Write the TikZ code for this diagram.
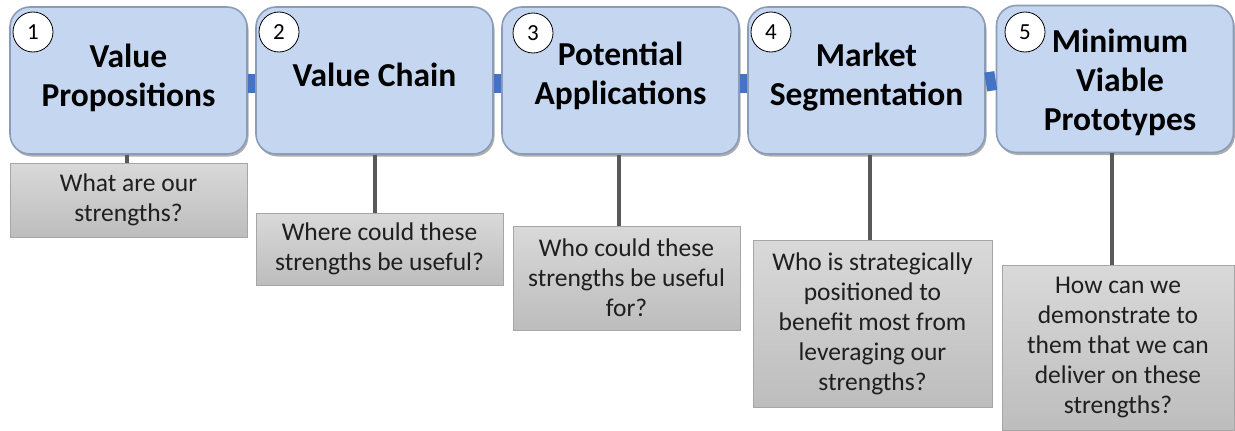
\documentclass[tikz,border=0pt]{standalone}
\usepackage{fontspec}
\setmainfont{Carlito}
\usetikzlibrary{shadows}
\definecolor{boxfill}{HTML}{C5D6F1}
\definecolor{boxedge}{HTML}{8B9CB8}
\definecolor{barblue}{HTML}{4472C4}
\definecolor{qtop}{HTML}{D9D9D9}
\definecolor{qbot}{HTML}{BDBDBD}
\definecolor{qedge}{HTML}{A6A6A6}
\definecolor{stemgray}{HTML}{595959}
\definecolor{txt}{HTML}{1F1F1F}
\tikzset{
  stagebox/.style={rectangle, rounded corners=20pt, fill=boxfill, draw=boxedge,
    line width=1.6pt, minimum width=237pt, minimum height=147pt, inner sep=0pt,
    drop shadow={shadow xshift=1.5pt, shadow yshift=-2.5pt, opacity=0.45, fill=black!70}},
  stagetitle/.style={font=\fontsize{33.5}{39}\selectfont\bfseries, align=center, text=black, inner sep=0pt},
  numbadge/.style={circle, draw=black, line width=0.8pt, fill=white, minimum size=40pt,
    inner sep=0pt, font=\fontsize{23}{23}\selectfont},
  question/.style={rectangle, draw=qedge, line width=0.8pt, top color=qtop, bottom color=qbot,
    inner sep=0pt, font=\fontsize{25.5}{30}\selectfont, align=center, text=txt},
  stem/.style={draw=stemgray, line width=4pt},
  link/.style={draw=barblue, line width=19pt},
}
\begin{document}
\begin{tikzpicture}[x=1pt, y=-1pt]
\useasboundingbox (0,0) rectangle (1235,431);

% stage boxes
\node[stagebox] (t1) at (128.5,80.5) {};
\node[stagebox] (t2) at (374.5,80.5) {};
\node[stagebox] (t3) at (620.5,80.5) {};
\node[stagebox] (t4) at (866.5,80.5) {};
\node[stagebox] (t5) at (1115,79) {};

% blue links between neighbouring stages
\draw[link] ([yshift=-3pt]t1.east) -- ([yshift=-3pt]t2.west);
\draw[link] ([yshift=-3pt]t2.east) -- ([yshift=-3pt]t3.west);
\draw[link] ([yshift=-3pt]t3.east) -- ([yshift=-3pt]t4.west);
\draw[link] ([yshift=-1.5pt]t4.east) -- ([yshift=-1.5pt]t5.west);

% stage titles
\node[stagetitle] (h1) at (128.5,78) {Value\\Propositions};
\node[stagetitle] (h2) at (374.5,75) {Value Chain};
\node[stagetitle] (h3) at (620.5,76) {Potential\\Applications};
\node[stagetitle] (h4) at (866.5,77) {Market\\Segmentation};
\node[stagetitle] (h5) at (1120,82) {Minimum\\Viable\\Prototypes};

% step numbers
\node[numbadge] (n1) at (33,32) {1};
\node[numbadge] (n2) at (279,32) {2};
\node[numbadge] (n3) at (533,33) {3};
\node[numbadge] (n4) at (771,32) {4};
\node[numbadge] (n5) at (1025,32) {5};

% questions
\node[question, minimum width=237pt, minimum height=74pt] (q1) at (128.5,200)
  {What are our\\strengths?};
\node[question, minimum width=247pt, minimum height=72pt] (q2) at (379.5,249)
  {Where could these\\strengths be useful?};
\node[question, minimum width=227pt, minimum height=104pt] (q3) at (626.5,278)
  {Who could these\\strengths be useful\\for?};
\node[question, minimum width=239pt, minimum height=167pt] (q4) at (872.5,323.5)
  {Who is strategically\\positioned to\\benefit most from\\leveraging our\\strengths?};
\node[question, minimum width=232pt, minimum height=165pt] (q5) at (1118,347.5)
  {How can we\\demonstrate to\\them that we can\\deliver on these\\strengths?};

% stems from stages to questions
\draw[stem] ([xshift=-2pt]t1.south) -- ([xshift=-2pt]t1.south |- q1.north);
\draw[stem] (t2.south) -- (t2.south |- q2.north);
\draw[stem] ([xshift=-1.5pt]t3.south) -- ([xshift=-1.5pt]t3.south |- q3.north);
\draw[stem] ([xshift=3.5pt]t4.south) -- ([xshift=3.5pt]t4.south |- q4.north);
\draw[stem] ([xshift=-3pt]t5.south) -- ([xshift=-3pt]t5.south |- q5.north);
\end{tikzpicture}
\end{document}
